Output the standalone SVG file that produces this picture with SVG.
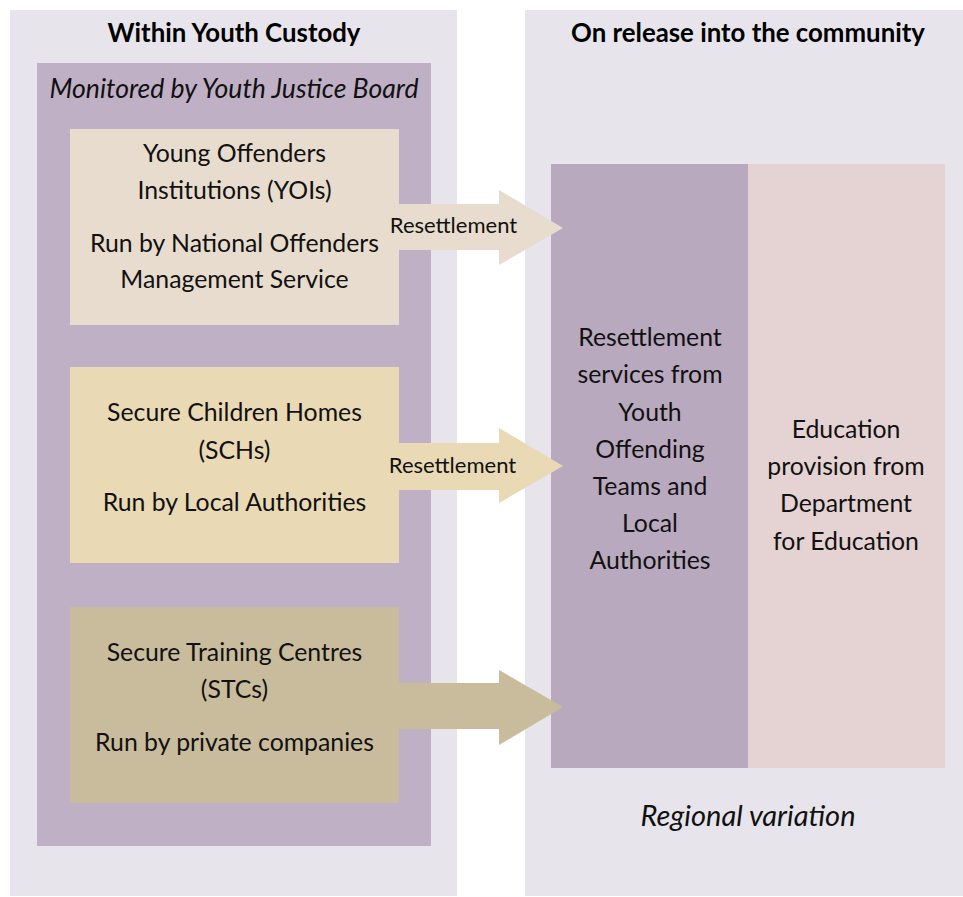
<svg xmlns="http://www.w3.org/2000/svg" width="963" height="897" viewBox="0 0 963 897">
<style>
.panel{fill:#E7E5EB}
.t{font-family:Lato,"Open Sans","Liberation Sans",sans-serif;font-size:24.8px;fill:#111;text-anchor:middle}
.b{font-family:Lato,"Open Sans","Liberation Sans",sans-serif;font-size:25.8px;font-weight:bold;fill:#000;text-anchor:middle}
.i{font-family:Lato,"Open Sans","Liberation Sans",sans-serif;font-size:26.6px;font-style:italic;fill:#111;text-anchor:middle}
.ir{font-family:Lato,"Open Sans","Liberation Sans",sans-serif;font-size:29px;font-style:italic;fill:#111;text-anchor:middle}
.lbl{font-family:Lato,"Open Sans","Liberation Sans",sans-serif;font-size:22px;fill:#111;text-anchor:middle}
</style>
<rect width="963" height="897" fill="#FFFFFF"/>
<g id="custody-panel">
<rect class="panel" x="10" y="10" width="447" height="886"/>
<text class="b" x="234" y="42">Within Youth Custody</text>
</g>
<g id="community-panel">
<rect class="panel" x="525" y="10" width="438" height="886"/>
<text class="b" x="748" y="42">On release into the community</text>
<text class="ir" x="748" y="826">Regional variation</text>
</g>
<g id="yjb">
<rect x="37" y="63" width="394" height="783" fill="#C0B0C6"/>
<text class="i" x="234" y="98">Monitored by Youth Justice Board</text>
</g>
<g id="yoi">
<rect x="70" y="129" width="329" height="196" fill="#E7DCCE"/>
<text class="t" x="234.5" y="162">Young Offenders</text>
<text class="t" x="234.5" y="199">Institutions (YOIs)</text>
<text class="t" x="234.5" y="252">Run by National Offenders</text>
<text class="t" x="234.5" y="288">Management Service</text>
</g>
<g id="sch">
<rect x="70" y="367" width="329" height="196" fill="#E9D9B5"/>
<text class="t" x="234.5" y="421">Secure Children Homes</text>
<text class="t" x="234.5" y="459">(SCHs)</text>
<text class="t" x="234.5" y="511">Run by Local Authorities</text>
</g>
<g id="stc">
<rect x="70" y="607" width="329" height="196" fill="#C8BC9C"/>
<text class="t" x="234.5" y="661">Secure Training Centres</text>
<text class="t" x="234.5" y="698">(STCs)</text>
<text class="t" x="234.5" y="751">Run by private companies</text>
</g>
<g id="resettlement-services">
<rect x="551" y="164" width="197" height="604" fill="#B8A9BE"/>
<text class="t" x="650" y="346">Resettlement</text>
<text class="t" x="650" y="383">services from</text>
<text class="t" x="650" y="421">Youth</text>
<text class="t" x="650" y="458">Offending</text>
<text class="t" x="650" y="495">Teams and</text>
<text class="t" x="650" y="532">Local</text>
<text class="t" x="650" y="569">Authorities</text>
</g>
<g id="education">
<rect x="748" y="164" width="197" height="604" fill="#E5D3D3"/>
<text class="t" x="846" y="438">Education</text>
<text class="t" x="846" y="475">provision from</text>
<text class="t" x="846" y="512">Department</text>
<text class="t" x="846" y="550">for Education</text>
</g>
<g id="connectors">
<polygon points="399,204 499,204 499,190 563,228 499,265 499,250 399,250" fill="#E7DCCE"/>
<text class="lbl" x="453.5" y="233">Resettlement</text>
<polygon points="399,443 499,443 499,428 563,466 499,503 499,490 399,490" fill="#E9D9B5"/>
<text class="lbl" x="452.5" y="473">Resettlement</text>
<polygon points="399,683 499,683 499,670 563,707 499,745 499,729 399,729" fill="#C8BC9C"/>
</g>
</svg>
